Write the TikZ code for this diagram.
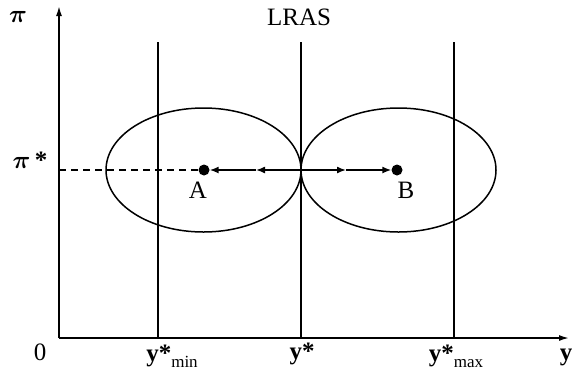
\documentclass[tikz,border=0pt]{standalone}
\usepackage{amsmath,bm}
\usepackage{fontspec}
\setmainfont{Liberation Serif}
\usepackage{tikz}
\usetikzlibrary{arrows.meta,positioning,calc}
\tikzset{
axisline/.style={-{Latex[length=10pt,width=6pt]}, line width=1.6pt},
levelline/.style={line width=1.5pt},
guideline/.style={line width=1.4pt, dash pattern=on 7pt off 5pt},
regionline/.style={line width=1.5pt},
flowarrow/.style={-{Latex[length=9pt,width=7pt]}, line width=1.5pt},
statedot/.style={circle, fill, inner sep=0pt, minimum size=11pt},
ticklabel/.style={inner sep=1pt}
}

\begin{document}
\begin{tikzpicture}[x=1pt, y=-1pt, font=\fontsize{25}{28}\selectfont]
  \useasboundingbox (0,0) rectangle (572,376);
  % axes
  \coordinate (origin) at (59,338);
  \coordinate (ytop) at (59,6);
  \coordinate (xend) at (569,338);
  \draw[axisline] (origin) -- (ytop);
  \draw[axisline] (origin) -- (xend);
  % vertical levels
  \coordinate (ymin) at (158,338);
  \coordinate (ystar) at (301,338);
  \coordinate (ymax) at (454,338);
  \draw[levelline] (ymin) -- (158,42);
  \draw[levelline] (ystar) -- (301,42);
  \draw[levelline] (ymax) -- (454,42);
  % regions
  \draw[regionline] (203.5,170) ellipse (97.5 and 62);
  \draw[regionline] (398.5,170) ellipse (97.5 and 62);
  % states
  \node[statedot] (A) at (204,170) {};
  \node[statedot] (B) at (397,170) {};
  \coordinate (centre) at (301,170);
  \coordinate (midA) at (256,170);
  \coordinate (midB) at (346,170);
  \draw[guideline] (59,170) -- (A);
  \draw[flowarrow] (centre) -- (midA);
  \draw[flowarrow] (midA) -- (A);
  \draw[flowarrow] (centre) -- (midB);
  \draw[flowarrow] (midB) -- (B);
  % labels
  \node (lA) at (198,190) {A};
  \node (lB) at (406,190) {B};
  \node (lras) at (299,17) {LRAS};
  \node (pi) at (18,17) {$\bm{\pi}$};
  \node (pistar) at (30,160) {$\bm{\pi}$\,\textbf{*}};
  \node (zero) at (40,352) {0};
  \node[ticklabel] (lymin) at (172,356) {\textbf{y*}\raisebox{-6pt}{\fontsize{17}{18}\selectfont min}};
  \node[ticklabel] (lystar) at (302,354) {\textbf{y*}};
  \node[ticklabel] (lymax) at (456,356) {\textbf{y*}\raisebox{-6pt}{\fontsize{17}{18}\selectfont max}};
  \node (ly) at (566,357) {\textbf{y}};
\end{tikzpicture}
\end{document}
